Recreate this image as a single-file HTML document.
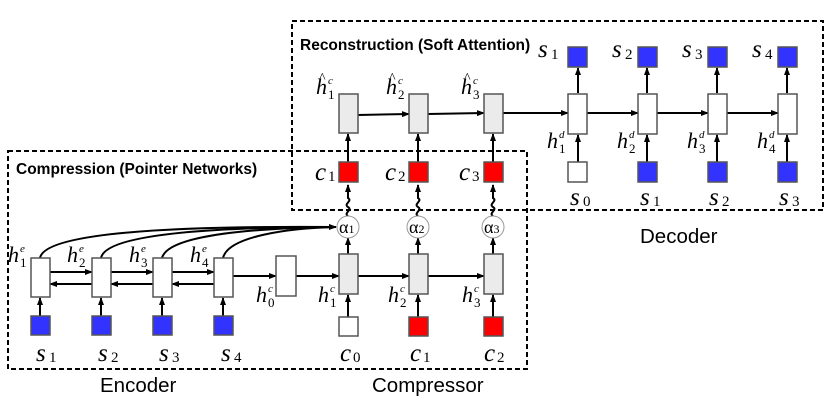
<!DOCTYPE html>
<html><head><meta charset="utf-8"><style>
html,body{margin:0;padding:0;background:#fff;}
svg{display:block;}
.m{font-family:"Liberation Serif",serif;font-style:italic;}
.r{font-family:"Liberation Serif",serif;}
.b{font-family:"Liberation Sans",sans-serif;font-weight:bold;font-size:15.5px;}
.n{font-family:"Liberation Sans",sans-serif;font-size:20.5px;}
</style></head><body>
<svg width="830" height="413" viewBox="0 0 830 413" xmlns="http://www.w3.org/2000/svg">
<defs>
<marker id="a" markerWidth="8" markerHeight="6" refX="7" refY="3" orient="auto" markerUnits="userSpaceOnUse">
<path d="M0,0 L8,3 L0,6 z" fill="#000"/></marker>
</defs>
<rect x="292" y="21" width="531" height="189" fill="none" stroke="#000" stroke-width="2" stroke-dasharray="5,3"/>
<rect x="8" y="151" width="519" height="218" fill="none" stroke="#000" stroke-width="2" stroke-dasharray="5,3"/>
<text class="b" x="300" y="50">Reconstruction (Soft Attention)</text>
<text class="b" x="16" y="174">Compression (Pointer Networks)</text>

<g stroke="#000" stroke-width="2" fill="none">
<line x1="50" y1="272" x2="92" y2="272" marker-end="url(#a)"/>
<line x1="111" y1="272" x2="153" y2="272" marker-end="url(#a)"/>
<line x1="172" y1="272" x2="214" y2="272" marker-end="url(#a)"/>
<line x1="92" y1="284" x2="50" y2="284" marker-end="url(#a)"/>
<line x1="153" y1="284" x2="111" y2="284" marker-end="url(#a)"/>
<line x1="214" y1="284" x2="172" y2="284" marker-end="url(#a)"/>
<line x1="233" y1="276" x2="276" y2="276" marker-end="url(#a)"/>
<line x1="296" y1="276" x2="339" y2="276" marker-end="url(#a)"/>
<line x1="358" y1="276" x2="409" y2="276" marker-end="url(#a)"/>
<line x1="428" y1="276" x2="484" y2="276" marker-end="url(#a)"/>
<line x1="40" y1="316" x2="40" y2="298" marker-end="url(#a)"/>
<line x1="101" y1="316" x2="101" y2="298" marker-end="url(#a)"/>
<line x1="162" y1="316" x2="162" y2="298" marker-end="url(#a)"/>
<line x1="223" y1="316" x2="223" y2="298" marker-end="url(#a)"/>
<line x1="348" y1="317" x2="348" y2="295" marker-end="url(#a)"/>
<line x1="418" y1="317" x2="418" y2="295" marker-end="url(#a)"/>
<line x1="493" y1="317" x2="493" y2="295" marker-end="url(#a)"/>
<line x1="348" y1="254" x2="348" y2="238" marker-end="url(#a)"/>
<line x1="418" y1="254" x2="418" y2="238" marker-end="url(#a)"/>
<line x1="493" y1="254" x2="493" y2="238" marker-end="url(#a)"/>
<path d="M40,258 C45,230 200,226 336,227" marker-end="url(#a)"/>
<path d="M101,258 C106,232 230,227 336,227"/>
<path d="M162,258 C168,234 260,228 336,227"/>
<path d="M223,258 C228,236 290,228 336,227"/>
<path d="M348,216 c-5,-3 5,-6 0,-9 c-5,-3 5,-6 0,-9 l0,-13" marker-end="url(#a)"/>
<path d="M418,216 c-5,-3 5,-6 0,-9 c-5,-3 5,-6 0,-9 l0,-13" marker-end="url(#a)"/>
<path d="M493,216 c-5,-3 5,-6 0,-9 c-5,-3 5,-6 0,-9 l0,-13" marker-end="url(#a)"/>
<line x1="348" y1="162" x2="348" y2="134" marker-end="url(#a)"/>
<line x1="418" y1="162" x2="418" y2="134" marker-end="url(#a)"/>
<line x1="493" y1="162" x2="493" y2="134" marker-end="url(#a)"/>
<line x1="358" y1="115" x2="409" y2="114" marker-end="url(#a)"/>
<line x1="428" y1="114" x2="484" y2="113" marker-end="url(#a)"/>
<line x1="503" y1="113" x2="568" y2="113" marker-end="url(#a)"/>
<line x1="587" y1="113" x2="638" y2="113" marker-end="url(#a)"/>
<line x1="657" y1="113" x2="708" y2="113" marker-end="url(#a)"/>
<line x1="727" y1="113" x2="778" y2="113" marker-end="url(#a)"/>
<line x1="578" y1="93" x2="578" y2="68" marker-end="url(#a)"/>
<line x1="647" y1="93" x2="647" y2="68" marker-end="url(#a)"/>
<line x1="717" y1="93" x2="717" y2="68" marker-end="url(#a)"/>
<line x1="787" y1="93" x2="787" y2="68" marker-end="url(#a)"/>
<line x1="578" y1="162" x2="578" y2="135" marker-end="url(#a)"/>
<line x1="647" y1="162" x2="647" y2="135" marker-end="url(#a)"/>
<line x1="717" y1="162" x2="717" y2="135" marker-end="url(#a)"/>
<line x1="787" y1="162" x2="787" y2="135" marker-end="url(#a)"/>
</g>

<g stroke="#555" stroke-width="1.5">
<rect x="31" y="258" width="19" height="39" fill="#fff"/>
<rect x="92" y="258" width="19" height="39" fill="#fff"/>
<rect x="153" y="258" width="19" height="39" fill="#fff"/>
<rect x="214" y="258" width="19" height="39" fill="#fff"/>
<rect x="276" y="256" width="20" height="40" fill="#fff"/>
<rect x="339" y="254" width="19" height="40" fill="#ebebeb"/>
<rect x="409" y="254" width="19" height="40" fill="#ebebeb"/>
<rect x="484" y="254" width="19" height="40" fill="#ebebeb"/>
<rect x="339" y="94" width="19" height="39" fill="#ebebeb"/>
<rect x="409" y="94" width="19" height="39" fill="#ebebeb"/>
<rect x="484" y="94" width="19" height="39" fill="#ebebeb"/>
<rect x="568" y="94" width="19" height="40" fill="#fff"/>
<rect x="638" y="94" width="19" height="40" fill="#fff"/>
<rect x="708" y="94" width="19" height="40" fill="#fff"/>
<rect x="778" y="94" width="19" height="40" fill="#fff"/>
<rect x="31" y="316" width="19" height="19" fill="#3333ff"/>
<rect x="92" y="316" width="19" height="19" fill="#3333ff"/>
<rect x="153" y="316" width="19" height="19" fill="#3333ff"/>
<rect x="214" y="316" width="19" height="19" fill="#3333ff"/>
<rect x="339" y="317" width="19" height="19" fill="#fff"/>
<rect x="409" y="317" width="19" height="19" fill="#ff0000"/>
<rect x="484" y="317" width="19" height="19" fill="#ff0000"/>
<rect x="339" y="162" width="19" height="20" fill="#ff0000"/>
<rect x="409" y="162" width="19" height="20" fill="#ff0000"/>
<rect x="484" y="162" width="19" height="20" fill="#ff0000"/>
<rect x="568" y="47" width="19" height="20" fill="#3333ff"/>
<rect x="638" y="47" width="19" height="20" fill="#3333ff"/>
<rect x="708" y="47" width="19" height="20" fill="#3333ff"/>
<rect x="778" y="47" width="19" height="20" fill="#3333ff"/>
<rect x="568" y="162" width="19" height="20" fill="#fff"/>
<rect x="638" y="162" width="19" height="20" fill="#3333ff"/>
<rect x="708" y="162" width="19" height="20" fill="#3333ff"/>
<rect x="778" y="162" width="19" height="20" fill="#3333ff"/>
</g>
<g stroke="#999" stroke-width="1" fill="#fff">
<circle cx="348" cy="227" r="11"/><circle cx="418" cy="227" r="11"/><circle cx="493" cy="227" r="11"/>
</g>
<g class="r" font-size="18">
<text x="339" y="233">α<tspan font-size="12">1</tspan></text>
<text x="409" y="233">α<tspan font-size="12">2</tspan></text>
<text x="484" y="233">α<tspan font-size="12">3</tspan></text>
</g>

<!-- s / c labels -->
<g class="m" font-size="25">
<text x="36" y="361">s</text><text x="98" y="361">s</text><text x="159" y="361">s</text><text x="221" y="361">s</text>
<text x="340" y="361">c</text><text x="410" y="361">c</text><text x="484" y="361">c</text>
<text x="315" y="180">c</text><text x="385" y="180">c</text><text x="459" y="180">c</text>
<text x="570" y="205">s</text><text x="640" y="205">s</text><text x="709" y="205">s</text><text x="779" y="205">s</text>
<text x="538" y="57">s</text><text x="612" y="57">s</text><text x="682" y="57">s</text><text x="752" y="57">s</text>
</g>
<g class="r" font-size="15">
<text x="49" y="362">1</text><text x="111" y="362">2</text><text x="172" y="362">3</text><text x="234" y="362">4</text>
<text x="353" y="362">0</text><text x="423" y="362">1</text><text x="497" y="362">2</text>
<text x="328" y="181">1</text><text x="398" y="181">2</text><text x="472" y="181">3</text>
<text x="583" y="206">0</text><text x="653" y="206">1</text><text x="722" y="206">2</text><text x="792" y="206">3</text>
<text x="551" y="59">1</text><text x="625" y="59">2</text><text x="695" y="59">3</text><text x="765" y="59">4</text>
</g>

<!-- h labels: h at (x,y), sup at x+11,y-9, sub x+11,y+4 -->
<g class="m" font-size="22">
<text x="8" y="262">h</text><text x="67" y="262">h</text><text x="129" y="262">h</text><text x="190" y="262">h</text>
<text x="256" y="302">h</text><text x="318" y="302">h</text><text x="388" y="302">h</text><text x="462" y="302">h</text>
<text x="316" y="94">h</text><text x="386" y="94">h</text><text x="461" y="94">h</text>
<text x="547" y="148">h</text><text x="617" y="148">h</text><text x="687" y="148">h</text><text x="757" y="148">h</text>
</g>
<g class="m" font-size="11">
<text x="20" y="252">e</text><text x="79" y="252">e</text><text x="141" y="252">e</text><text x="202" y="252">e</text>
<text x="268" y="292">c</text><text x="330" y="292">c</text><text x="400" y="292">c</text><text x="474" y="292">c</text>
<text x="328" y="84">c</text><text x="398" y="84">c</text><text x="473" y="84">c</text>
<text x="559" y="138">d</text><text x="629" y="138">d</text><text x="699" y="138">d</text><text x="769" y="138">d</text>
</g>
<g class="r" font-size="13">
<text x="20" y="267">1</text><text x="79" y="267">2</text><text x="141" y="267">3</text><text x="202" y="267">4</text>
<text x="268" y="307">0</text><text x="330" y="307">1</text><text x="400" y="307">2</text><text x="474" y="307">3</text>
<text x="328" y="99">1</text><text x="398" y="99">2</text><text x="473" y="99">3</text>
<text x="559" y="153">1</text><text x="629" y="153">2</text><text x="699" y="153">3</text><text x="769" y="153">4</text>
</g>
<g class="r" font-size="14">
<text x="319" y="82">^</text><text x="389" y="82">^</text><text x="464" y="82">^</text>
</g>
<text class="n" x="100" y="392">Encoder</text>
<text class="n" x="372" y="392">Compressor</text>
<text class="n" x="640" y="243">Decoder</text>
</svg>
</body></html>
